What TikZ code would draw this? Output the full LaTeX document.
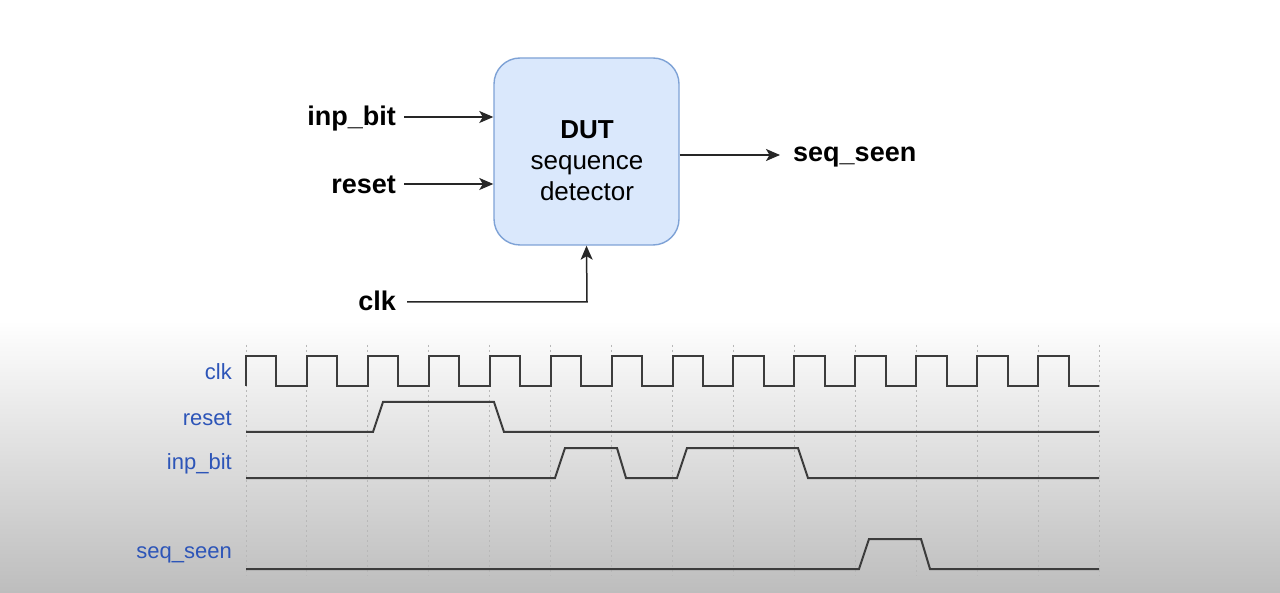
\documentclass[tikz,border=0pt]{standalone}
\usepackage{fontspec}
\setmainfont{Liberation Sans}
\usetikzlibrary{arrows.meta}
\definecolor{boxfill}{HTML}{DAE8FC}
\definecolor{boxdraw}{HTML}{7EA2D6}
\definecolor{wave}{HTML}{3C3C3C}
\definecolor{lblblue}{HTML}{2D55B8}
\definecolor{gridc}{HTML}{B8B8B8}
\definecolor{bgbot}{HTML}{BDBDBD}
\tikzset{
  toplabel/.style={inner sep=0pt, font=\fontsize{27}{30}\selectfont\bfseries},
  wavelabel/.style={inner sep=0pt, anchor=east, text=lblblue, font=\fontsize{22}{24}\selectfont},
  conn/.style={line width=1.5pt, black!85},
  arr/.style={conn, -{Stealth[length=14pt,width=12pt,inset=3.5pt]}},
  wavepath/.style={line width=2pt, wave, line join=miter},
  gridline/.style={gridc, line width=0.9pt, dash pattern=on 2pt off 3pt},
}
\begin{document}
\begin{tikzpicture}[x=1pt,y=-1pt]
\useasboundingbox (0,0) rectangle (1280,593);
\fill[white] (0,0) rectangle (1280,330);
\shade[top color=white, bottom color=bgbot] (0,320) rectangle (1280,593);

% DUT block
\node[draw=boxdraw, fill=boxfill, line width=1.4pt, rounded corners=26pt,
      minimum width=185pt, minimum height=187pt, inner sep=0pt] (dut) at (586.5,151.5) {};
\node[align=center, inner sep=0pt, font=\fontsize{26}{31}\selectfont] (duttxt) at (587,161)
  {\textbf{DUT}\\sequence\\detector};

% inputs / outputs
\node[toplabel, anchor=east] (linp) at (396,119) {inp\_bit};
\node[toplabel, anchor=east] (lrst) at (396,185) {reset};
\node[toplabel, anchor=east] (lclk) at (396,301) {clk};
\node[toplabel, anchor=west] (lseq) at (793,157) {seq\_seen};
\coordinate (inpstart) at (404,117);
\coordinate (rststart) at (404,184);
\coordinate (clkstart) at (407,302);
\coordinate (clkcorner) at (587,302);
\coordinate (seqend) at (780,155);
\draw[arr] (inpstart) -- (inpstart -| dut.west);
\draw[arr] (rststart) -- (rststart -| dut.west);
\draw[arr] (clkstart) -- (clkcorner) -- (dut.south);
\draw[arr] (seqend -| dut.east) -- (seqend);

% grid
\foreach \k in {0,...,14}{
  \draw[gridline] ({246+\k*60.93},345) -- ({246+\k*60.93},576);
}

% wave labels
\node[wavelabel] (wclk) at (232,372) {clk};
\node[wavelabel] (wrst) at (232,418) {reset};
\node[wavelabel] (winp) at (232,464) {inp\_bit};
\node[wavelabel] (wseq) at (232,555) {seq\_seen};

% clk waveform
\draw[wavepath] (246,386) -- (246,356)
  \foreach \k in {0,...,13}{
    -- ({246+\k*60.93+30.46},356) -- ({246+\k*60.93+30.46},386)
    -- ({246+(\k+1)*60.93},386)
    \ifnum\k<13 -- ({246+(\k+1)*60.93},356)\fi
  };

% reset
\draw[wavepath] (246,432) -- (373,432) -- (383,402) -- (494,402) -- (504,432) -- (1099,432);
% inp_bit
\draw[wavepath] (246,478) -- (555,478) -- (565,448) -- (617,448) -- (626,478)
  -- (677,478) -- (687,448) -- (798,448) -- (808,478) -- (1099,478);
% seq_seen
\draw[wavepath] (246,569) -- (859,569) -- (869,539) -- (921,539) -- (930,569) -- (1099,569);
\end{tikzpicture}
\end{document}
